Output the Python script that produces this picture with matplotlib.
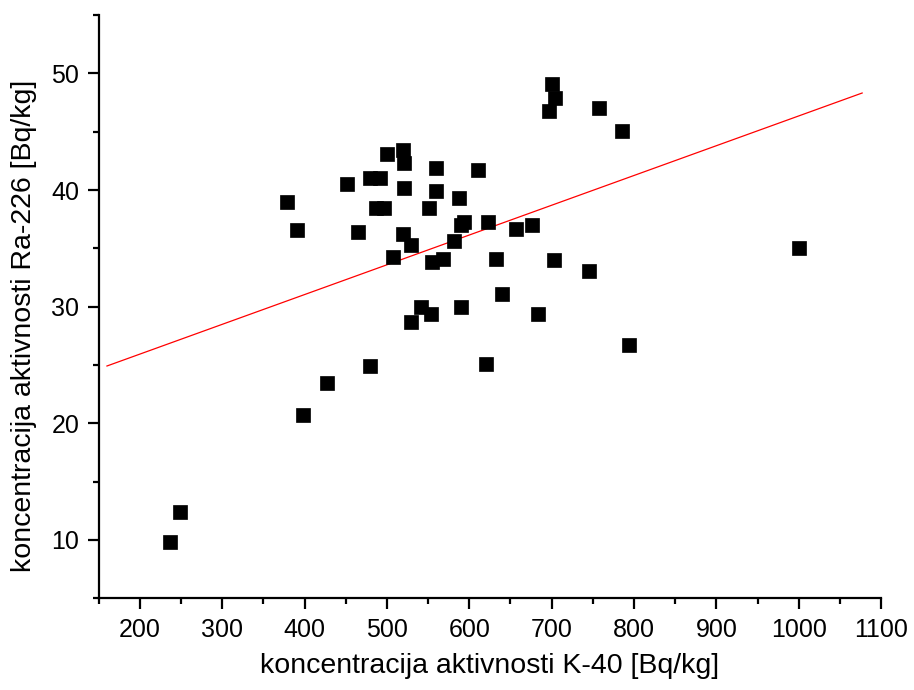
import numpy as np
import matplotlib
matplotlib.use('Agg')
import matplotlib.pyplot as plt
from matplotlib.ticker import MultipleLocator

# K-40 vs Ra-226 activity concentrations (Bq/kg)
k40 = [237, 248.5, 379, 391, 398, 427, 451, 465, 479, 480,
       492, 487, 496, 500, 507, 520, 521, 521, 520, 529,
       529, 541, 551, 554, 555, 560, 560, 568, 581, 588,
       590, 594, 590, 610, 620, 623, 633, 640, 657, 676,
       683, 697, 701, 704.6, 703, 745, 758, 785.5, 794, 1000]
ra226 = [9.8, 12.4, 39.0, 36.6, 20.7, 23.5, 40.5, 36.4, 24.9, 41.0,
         41.0, 38.5, 38.5, 43.1, 34.3, 43.4, 42.3, 40.2, 36.2, 35.3,
         28.7, 30.0, 38.5, 29.4, 33.8, 41.9, 39.9, 34.1, 35.6, 39.3,
         37.0, 37.3, 30.0, 41.7, 25.1, 37.3, 34.1, 31.1, 36.7, 37.0,
         29.4, 46.8, 49.1, 47.9, 34.0, 33.1, 47.0, 45.1, 26.7, 35.0]

# linear fit line as drawn in the reference
fit_slope = 0.02553
fit_intercept = 20.83
fit_range = [160, 1077]

plt.rcParams['font.family'] = ['Liberation Sans', 'DejaVu Sans']

fig = plt.figure(figsize=(9.14, 6.9), dpi=100)
ax = fig.add_axes([0.108, 0.133, 0.856, 0.845])

ax.plot(k40, ra226, 's', color='black', ms=9.5, mec='black', mew=0.5, zorder=3)

fx = np.array(fit_range)
ax.plot(fx, fit_slope * fx + fit_intercept, color='red', lw=0.9, zorder=2)

ax.set_xlim(150, 1100)
ax.set_ylim(5, 55)
ax.xaxis.set_major_locator(MultipleLocator(100))
ax.xaxis.set_minor_locator(MultipleLocator(50))
ax.yaxis.set_major_locator(MultipleLocator(10))
ax.yaxis.set_minor_locator(MultipleLocator(5))

for side in ['top', 'right']:
    ax.spines[side].set_visible(False)
for side in ['left', 'bottom']:
    ax.spines[side].set_linewidth(1.6)

ax.tick_params(which='major', direction='out', length=8, width=1.6, labelsize=18, pad=6)
ax.tick_params(which='minor', direction='out', length=4, width=1.6)

ax.set_xlabel('koncentracija aktivnosti K-40 [Bq/kg]', fontsize=20.5, labelpad=8)
ax.set_ylabel('koncentracija aktivnosti Ra-226 [Bq/kg]', fontsize=20.5)
# Origin places the y title a bit below the axis centre
ax.yaxis.set_label_coords(-0.079, 0.467)

plt.savefig('out.png', dpi=100)
plt.close()
